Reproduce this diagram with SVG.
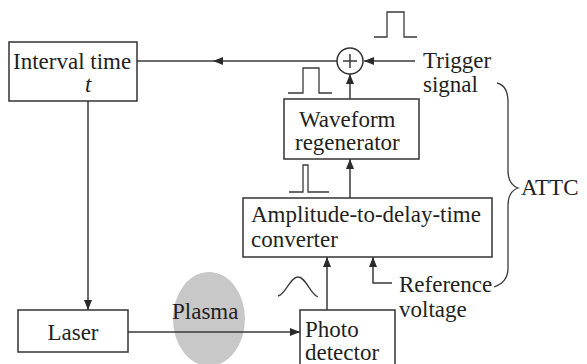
<svg xmlns="http://www.w3.org/2000/svg" width="587" height="364" viewBox="0 0 587 364">
<style>
.box{fill:#fff;stroke:#333;stroke-width:1.5}
.ln{fill:none;stroke:#3a3a3a;stroke-width:1.5}
.sig{fill:none;stroke:#3a3a3a;stroke-width:1.3}
text{font-family:"Liberation Serif","Times New Roman",serif;font-size:23px;fill:#231f20}
</style>
<defs>
<marker id="ah" markerUnits="userSpaceOnUse" markerWidth="11" markerHeight="9" refX="10" refY="4" orient="auto">
<path d="M0,0 L10,4 L0,8 z" fill="#2a2a2a"/>
</marker>
</defs>
<rect width="587" height="364" fill="#fff"/>
<g id="plasma">
<ellipse cx="209" cy="319" rx="36" ry="47" fill="#c8c8c8"/>
<text x="172" y="319">Plasma</text>
</g>
<g id="connectors">
<path class="ln" d="M337,61 L213,61 L137,61" marker-mid="url(#ah)"/>
<path class="ln" d="M415,61 L364,61" marker-end="url(#ah)"/>
<path class="ln" d="M350,99 L350,74" marker-end="url(#ah)"/>
<path class="ln" d="M350,198 L350,159" marker-end="url(#ah)"/>
<path class="ln" d="M327,310 L327,257" marker-end="url(#ah)"/>
<path class="ln" d="M392,283 L373,283 L373,257" marker-end="url(#ah)"/>
<path class="ln" d="M88,101 L88,310" marker-end="url(#ah)"/>
<path class="ln" d="M128,332 L300,332" marker-end="url(#ah)"/>
</g>
<g id="signals">
<polyline class="sig" points="374,37 387,37 387,12 404,12 404,37 417,37"/>
<polyline class="sig" points="288,93 303,93 303,68 319,68 319,93 332,93"/>
<polyline class="sig" points="289,192 303,192 303,165 308,165 308,192 329,192"/>
<path class="sig" d="M278,296 C286,294 290,277 298,277 C306,277 310,294 318,297"/>
<path class="sig" d="M497,83 C505,85 508,92 508,102 L508,170 C508,180 512,186 518,188 C512,190 508,196 508,206 L508,268 C508,278 503,284 494,287"/>
</g>
<g id="interval">
<rect class="box" x="9" y="42" width="128" height="59"/>
<text x="13" y="69">Interval time</text>
<text x="85" y="92" font-style="italic">t</text>
</g>
<g id="sum">
<circle cx="350" cy="61" r="13" fill="#fff" stroke="#333" stroke-width="1.5"/>
<path class="ln" d="M343,61 L357,61 M350,54 L350,68"/>
</g>
<g id="trigger">
<text x="423" y="68">Trigger</text>
<text x="423" y="92">signal</text>
</g>
<g id="waveform">
<rect class="box" x="284" y="99" width="135" height="60"/>
<text x="299" y="127">Waveform</text>
<text x="295" y="150">regenerator</text>
</g>
<g id="converter">
<rect class="box" x="243" y="198" width="249" height="59"/>
<text x="251" y="222">Amplitude-to-delay-time</text>
<text x="251" y="247">converter</text>
</g>
<g id="reference">
<text x="399" y="292">Reference</text>
<text x="399" y="317">voltage</text>
</g>
<g id="attc">
<text x="521" y="195">ATTC</text>
</g>
<g id="laser">
<rect class="box" x="18" y="310" width="110" height="42"/>
<text x="73" y="340" text-anchor="middle">Laser</text>
</g>
<g id="photo">
<rect class="box" x="300" y="310" width="95" height="60"/>
<text x="305" y="337">Photo</text>
<text x="305" y="360">detector</text>
</g>
</svg>
